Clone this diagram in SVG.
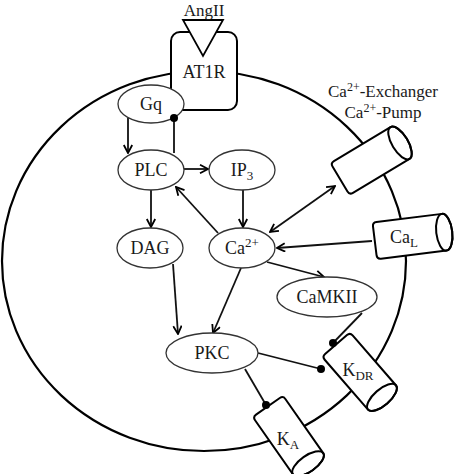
<svg xmlns="http://www.w3.org/2000/svg" width="474" height="474" viewBox="0 0 474 474">
<style>
text{font-family:"Liberation Serif","DejaVu Serif",serif;font-size:18px;fill:#1a1a1a;text-anchor:middle}
.node{fill:#fff;stroke:#333;stroke-width:1.3}
.con{stroke:#111;stroke-width:1.8;fill:none}
.arr{marker-end:url(#ah)}
.cyl{fill:#fff;stroke:#000;stroke-width:2;stroke-linejoin:round}
.dot{fill:#000}
.lab{font-size:17px}
</style>
<defs>
<marker id="ah" viewBox="0 0 10 10" refX="9" refY="5" markerWidth="10" markerHeight="10" markerUnits="userSpaceOnUse" orient="auto-start-reverse">
<path d="M1,0.8 L9,5 L1,9.2" fill="none" stroke="#000" stroke-width="1.8"/>
</marker>
<g id="cylshape">
<path class="cyl" d="M-31,-18.5 L35,-18.5 A8,18.5 0 0 1 35,18.5 L-31,18.5 Q-35,18.5 -35,14.5 L-35,-14.5 Q-35,-18.5 -31,-18.5 Z"/>
<ellipse cx="35" cy="0" rx="8" ry="18.5" fill="none" stroke="#000" stroke-width="2"/>
</g>
</defs>
<rect width="474" height="474" fill="#fff"/>
<ellipse id="membrane" cx="204" cy="261" rx="202" ry="190" fill="none" stroke="#000" stroke-width="2.2"/>
<g id="AT1R">
<rect x="171" y="32" width="66" height="78" rx="9" fill="#fff" stroke="#000" stroke-width="2"/>
<path d="M183,20 L223,20 L203,56 Z" fill="#fff" stroke="#000" stroke-width="1.8"/>
<text x="204" y="78">AT1R</text>
</g>
<text id="AngII" x="204" y="16" style="font-size:17px">AngII</text>
<g id="connectors">
<line class="con arr" x1="128" y1="118" x2="128" y2="153"/>
<line class="con" x1="174" y1="153" x2="174" y2="118"/>
<line class="con arr" x1="184" y1="169" x2="208" y2="169"/>
<line class="con arr" x1="151" y1="190" x2="151" y2="227"/>
<line class="con arr" x1="243" y1="190" x2="243" y2="227"/>
<line class="con arr" x1="218" y1="233" x2="176" y2="187"/>
<line class="con arr" x1="173" y1="264" x2="178" y2="334"/>
<line class="con arr" x1="241" y1="268" x2="213" y2="333"/>
<line class="con arr" x1="267" y1="262" x2="324" y2="277"/>
<line class="con arr" x1="372" y1="241" x2="277" y2="248"/>
<line class="con arr" x1="270" y1="232" x2="335" y2="186" style="marker-start:url(#ah)"/>
<line class="con" x1="362" y1="313" x2="333" y2="343"/>
<line class="con" x1="258" y1="353" x2="321" y2="369"/>
<line class="con" x1="245" y1="369" x2="266" y2="405"/>
</g>
<g id="Gq"><ellipse class="node" cx="151" cy="104" rx="33" ry="19"/><text x="151" y="110">Gq</text></g>
<circle class="dot" cx="174" cy="118" r="4"/>
<g id="PLC"><ellipse class="node" cx="151" cy="170" rx="33" ry="20"/><text x="151" y="176">PLC</text></g>
<g id="IP3"><ellipse class="node" cx="242" cy="170" rx="33" ry="20"/><text x="242" y="176">IP<tspan font-size="13" dy="4">3</tspan></text></g>
<g id="DAG"><ellipse class="node" cx="150" cy="248" rx="33" ry="20"/><text x="150" y="254">DAG</text></g>
<g id="Ca"><ellipse class="node" cx="242" cy="248" rx="33" ry="20"/><text x="242" y="254">Ca<tspan font-size="13" dy="-7">2+</tspan></text></g>
<g id="CaMKII"><ellipse class="node" cx="327" cy="297" rx="50" ry="20"/><text x="327" y="303">CaMKII</text></g>
<g id="PKC"><ellipse class="node" cx="212" cy="353" rx="46" ry="20"/><text x="212" y="359">PKC</text></g>
<g id="Exchanger">
<use href="#cylshape" transform="translate(370,161) rotate(-31)"/>
<text class="lab" x="383" y="97">Ca<tspan font-size="12" dy="-6">2+</tspan><tspan dy="6">-Exchanger</tspan></text>
<text class="lab" x="383" y="118">Ca<tspan font-size="12" dy="-6">2+</tspan><tspan dy="6">-Pump</tspan></text>
</g>
<g id="CaL">
<use href="#cylshape" transform="translate(409.5,236.5) rotate(-7)"/>
<text x="404" y="243">Ca<tspan font-size="13" dy="4">L</tspan></text>
</g>
<g id="KDR">
<use href="#cylshape" transform="translate(359,371) rotate(49)"/>
<text x="358" y="376">K<tspan font-size="13" dy="4">DR</tspan></text>
<circle class="dot" cx="333" cy="343" r="4"/>
<circle class="dot" cx="321" cy="369" r="4"/>
</g>
<g id="KA">
<use href="#cylshape" transform="translate(288,435) rotate(55)"/>
<text x="288" y="445">K<tspan font-size="13" dy="4">A</tspan></text>
<circle class="dot" cx="266" cy="405" r="4"/>
</g>
</svg>
